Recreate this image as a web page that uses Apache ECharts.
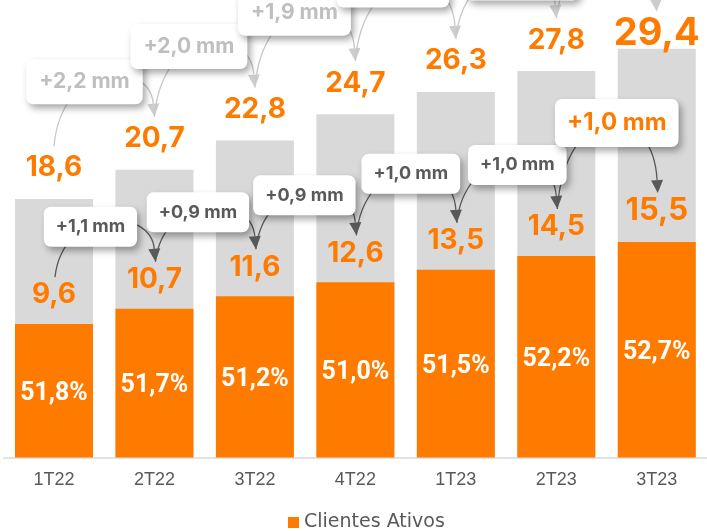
<!DOCTYPE html>
<html>
<head>
<meta charset="utf-8">
<script src="https://cdn.jsdelivr.net/npm/echarts@6/dist/echarts.min.js"></script>
<style>
  html, body { margin: 0; padding: 0; background: #ffffff; }
  #chart { width: 707px; height: 531px; }
</style>
</head>
<body>
<div id="chart"></div>
<script>
// Quarterly client base (millions) and active clients
const quarters = ['1T22', '2T22', '3T22', '4T22', '1T23', '2T23', '3T23'];
const baseTotal = [18.6, 20.7, 22.8, 24.7, 26.3, 27.8, 29.4];
const activeClients = [9.6, 10.7, 11.6, 12.6, 13.5, 14.5, 15.5];
const activeShare = [51.8, 51.7, 51.2, 51.0, 51.5, 52.2, 52.7];
const baseGrowth = ['+2,2 mm', '+2,0 mm', '+1,9 mm', '+1,6 mm', '+1,5 mm', '+1,6 mm'];
const activeGrowth = ['+1,1 mm', '+0,9 mm', '+0,9 mm', '+1,0 mm', '+1,0 mm', '+1,0 mm'];

const ORANGE = '#FF7B00';
const GREY = '#D9D9D9';
const LATEST = quarters.length - 1;
const VALUE_FONT = 'Inter, "Open Sans", sans-serif';

const fmt = v => v.toFixed(1).replace('.', ',');

// Value-label geometry; the latest quarter is set larger
const baseLabel = i => i === LATEST ? { fontSize: 38, distance: -4 } : { fontSize: 28, distance: 17 };
const activeLabel = i => i === LATEST ? { fontSize: 31, distance: 15.5 } : { fontSize: 28, distance: 15 };

// Callout box centre, offset in px from the arrow tip it points to
const baseBoxShift = [[-70, -35], [-66, -41], [-61, -48], [-63, -54], [-34, -40], [-37, -49]];
const activeBoxShift = [[-65, -35], [-58, -37], [-52, -40], [-46, -49], [-40, -44], [-41, -70]];

const measureCtx = document.createElement('canvas').getContext('2d');
function textWidth(text, size) {
  measureCtx.font = 'bold ' + size + 'px ' + VALUE_FONT;
  return measureCtx.measureText(text).width;
}

const rows = {
  base: {
    values: baseTotal, texts: baseGrowth, shift: baseBoxShift, label: baseLabel,
    gap: 22, nudge: 0, stroke: '#C8C8C8', head: '#CDCDCD',
    box: () => ({ size: 21, color: '#BFBFBF', height: 45, pad: 13 })
  },
  active: {
    values: activeClients, texts: activeGrowth, shift: activeBoxShift, label: activeLabel,
    gap: 18, nudge: 1, stroke: '#595959', head: '#595959',
    box: k => k === LATEST
      ? { size: 24, color: ORANGE, height: 48, pad: 12 }
      : { size: 18, color: '#595959', height: 40, pad: 12 }
  }
};

// Point just above a value label, where growth arrows start and end
function anchor(row, i, pt) {
  const l = row.label(i);
  return [pt[0] + row.nudge, pt[1] - l.distance - l.fontSize / 2 - row.gap];
}

// Growth callouts: curved arrow from one quarter's label to the next, with a boxed delta
function calloutSeries(row) {
  return {
    type: 'custom',
    z: 5,
    clip: false,
    silent: true,
    data: row.texts.map((_, j) => [j + 1, row.values[j + 1], j, row.values[j]]),
    renderItem(params, api) {
      const to = api.value(0);
      const from = api.value(2);
      const S = anchor(row, from, api.coord([from, api.value(3)]));
      const E = anchor(row, to, api.coord([to, api.value(1)]));
      const b = row.box(to);
      const text = row.texts[params.dataIndex];
      const w = textWidth(text, b.size) + 2 * b.pad;
      const shift = row.shift[params.dataIndex];
      const cx = E[0] + shift[0];
      const cy = E[1] + shift[1];
      const top = cy - b.height / 2;
      const c1 = [S[0] + 8, top];
      const c2 = [E[0] - 5, top];
      let ux = E[0] - c2[0], uy = E[1] - c2[1];
      const len = Math.hypot(ux, uy);
      ux /= len; uy /= len;
      const L = 13, W = 6;
      const bx = E[0] - ux * L, by = E[1] - uy * L;
      return {
        type: 'group',
        children: [
          {
            type: 'bezierCurve', z2: 1,
            shape: { x1: S[0], y1: S[1], cpx1: c1[0], cpy1: c1[1], cpx2: c2[0], cpy2: c2[1], x2: bx, y2: by },
            style: { stroke: row.stroke, lineWidth: 1.3, fill: null }
          },
          {
            type: 'polygon', z2: 1,
            shape: { points: [[E[0], E[1]], [bx - uy * W, by + ux * W], [bx + uy * W, by - ux * W]] },
            style: { fill: row.head }
          },
          {
            type: 'rect', z2: 10,
            shape: { x: cx - w / 2, y: top, width: w, height: b.height, r: 7 },
            style: { fill: '#ffffff', shadowBlur: 7, shadowOffsetX: 3, shadowOffsetY: 4, shadowColor: 'rgba(0,0,0,0.35)' }
          },
          {
            type: 'text', z2: 11,
            style: {
              text: text, x: cx, y: cy, align: 'center', verticalAlign: 'middle',
              font: 'bold ' + b.size + 'px ' + VALUE_FONT, fill: b.color
            }
          }
        ]
      };
    }
  };
}

const valueLabel = (cfg) => ({
  show: true, position: 'top', color: ORANGE, fontFamily: VALUE_FONT, fontWeight: 'bold',
  fontSize: cfg.fontSize, distance: cfg.distance, formatter: p => fmt(p.value)
});

const chart = echarts.init(document.getElementById('chart'));
chart.setOption({
  animation: false,
  backgroundColor: '#ffffff',
  grid: { left: 3.75, right: 0, top: 12.7, bottom: 73.5 },
  legend: {
    data: ['Clientes Ativos'],
    left: 283, top: 508,
    icon: 'rect', itemWidth: 11, itemHeight: 11,
    textStyle: { color: '#595959', fontSize: 19, fontFamily: '"DejaVu Sans", sans-serif' }
  },
  xAxis: {
    type: 'category',
    data: quarters,
    axisLine: { lineStyle: { color: GREY, width: 1.5 } },
    axisTick: { show: false },
    axisLabel: {
      margin: 14, color: '#595959', fontSize: 18,
      fontFamily: '"Liberation Sans", Arial, sans-serif'
    }
  },
  yAxis: { type: 'value', min: 0, max: 32, show: false },
  series: [
    {
      name: 'Base de Clientes',
      type: 'bar',
      barWidth: 78,
      barGap: '-100%',
      itemStyle: { color: GREY },
      data: baseTotal.map((v, i) => ({ value: v, label: valueLabel(baseLabel(i)) }))
    },
    {
      name: 'Clientes Ativos',
      type: 'bar',
      barWidth: 78,
      barGap: '-100%',
      itemStyle: { color: ORANGE },
      data: activeClients.map((v, i) => ({ value: v, label: valueLabel(activeLabel(i)) }))
    },
    {
      name: 'Participação',
      type: 'bar',
      barWidth: 78,
      barGap: '-100%',
      silent: true,
      itemStyle: { color: 'rgba(0,0,0,0)' },
      label: {
        show: true, position: 'inside', offset: [0, 3], color: '#ffffff',
        fontFamily: 'Roboto, sans-serif', fontWeight: 'bold', fontSize: 25,
        formatter: p => fmt(activeShare[p.dataIndex]) + '%'
      },
      data: activeClients
    },
    calloutSeries(rows.base),
    calloutSeries(rows.active)
  ]
});
</script>
</body>
</html>
